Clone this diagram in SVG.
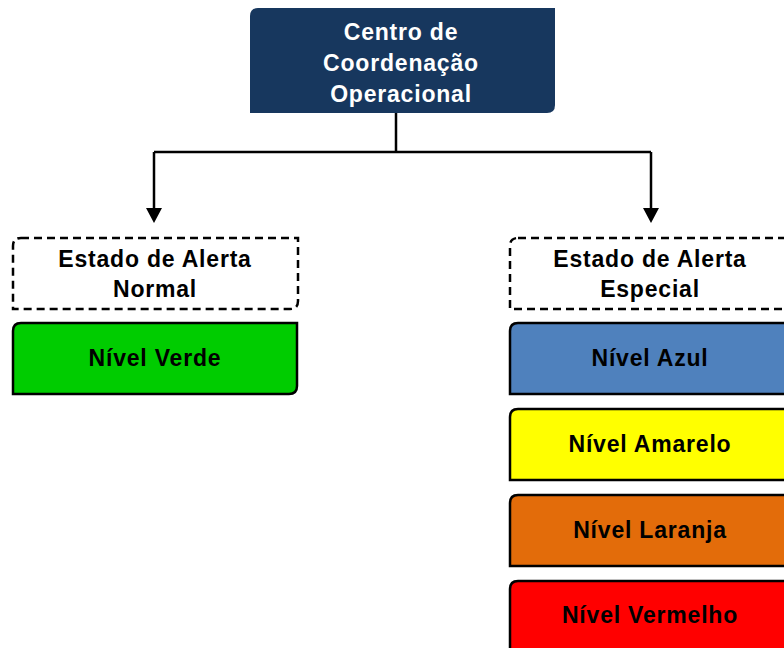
<svg xmlns="http://www.w3.org/2000/svg" width="784" height="648" viewBox="0 0 784 648">
<defs>
<style>
text{font-family:"Liberation Sans",Arial,sans-serif;font-weight:bold;font-size:23px;letter-spacing:0.8px;text-anchor:middle;fill:#000}
.w{fill:#fff}
.box{stroke:#000;stroke-width:2.5}
.dash{fill:#fff;stroke:#000;stroke-width:2.5;stroke-dasharray:8 5}
.conn{fill:none;stroke:#000;stroke-width:2.5}
</style>
</defs>
<g id="connectors">
<path class="conn" d="M396,113 V152 M154,152 H651"/>
<path class="conn" d="M154,152 V210"/>
<path d="M146,208 L162,208 L154,223 Z" fill="#000"/>
<path class="conn" d="M651,152 V210"/>
<path d="M643,208 L659,208 L651,223 Z" fill="#000"/>
</g>
<g id="centro">
<path d="M258,8 H555 V105 Q555,113 547,113 H250 V16 Q250,8 258,8 Z" fill="#17375e"/>
<text class="w" x="401" y="40">Centro de</text>
<text class="w" x="401" y="71">Coordenação</text>
<text class="w" x="401" y="102">Operacional</text>
</g>
<g id="alerta-normal">
<path class="dash" d="M21,238 H298 V301 Q298,309 290,309 H13 V246 Q13,238 21,238 Z"/>
<text x="155" y="267">Estado de Alerta</text>
<text x="155" y="297">Normal</text>
</g>
<g id="nivel-verde">
<path class="box" d="M21,323 H297 V386 Q297,394 289,394 H13 V331 Q13,323 21,323 Z" fill="#00cc00"/>
<text x="155" y="366">Nível Verde</text>
</g>
<g id="alerta-especial">
<path class="dash" d="M518,238 H790 V309 H510 V246 Q510,238 518,238 Z"/>
<text x="650" y="267">Estado de Alerta</text>
<text x="650" y="297">Especial</text>
</g>
<g id="nivel-azul">
<path class="box" d="M518,323 H790 V394 H510 V331 Q510,323 518,323 Z" fill="#4f81bd"/>
<text x="650" y="366">Nível Azul</text>
</g>
<g id="nivel-amarelo">
<path class="box" d="M518,409 H790 V480 H510 V417 Q510,409 518,409 Z" fill="#ffff00"/>
<text x="650" y="452">Nível Amarelo</text>
</g>
<g id="nivel-laranja">
<path class="box" d="M518,495 H790 V566 H510 V503 Q510,495 518,495 Z" fill="#e36c0a"/>
<text x="650" y="538">Nível Laranja</text>
</g>
<g id="nivel-vermelho">
<path class="box" d="M518,581 H790 V660 H510 V589 Q510,581 518,581 Z" fill="#ff0000"/>
<text x="650" y="623">Nível Vermelho</text>
</g>
</svg>
